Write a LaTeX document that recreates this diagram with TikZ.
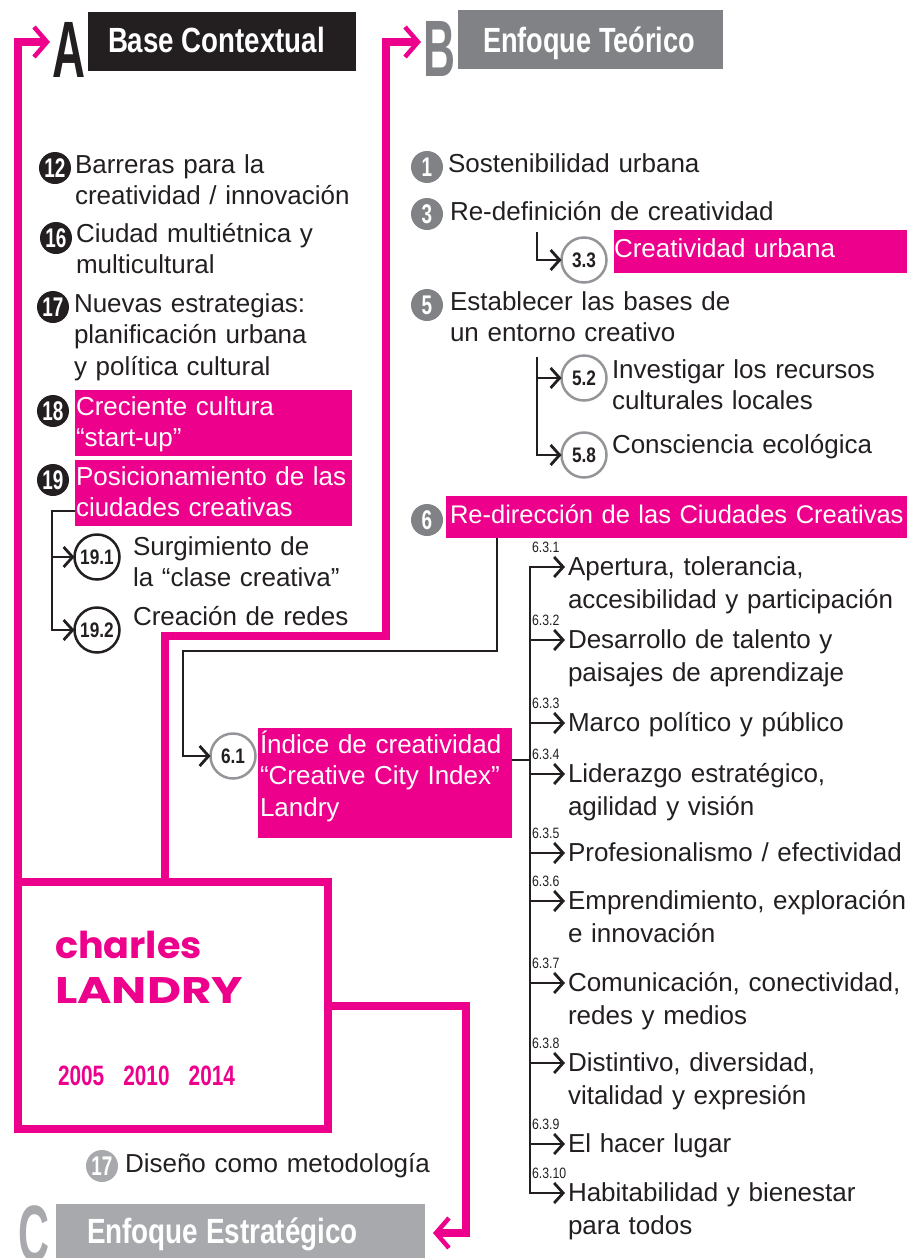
\documentclass[tikz,border=0pt]{standalone}
\usepackage{fontspec}
\usepackage{graphicx}
\setmainfont{Liberation Sans}
\newfontfamily\numfont[FakeStretch=0.82]{Liberation Sans}
\newfontfamily\badgefont[FakeStretch=0.7]{Liberation Sans}
\newfontfamily\geofont{Poppins}
\usetikzlibrary{arrows.meta}

\definecolor{lpink}{HTML}{EC008C}
\definecolor{ink}{HTML}{231F20}
\definecolor{gdark}{HTML}{808285}
\definecolor{glight}{HTML}{A7A9AC}
\definecolor{cgray}{HTML}{939598}

% scale a text horizontally to a given width, keeping its height
\newcommand\fitw[2]{\resizebox{#1}{\height}{#2}}
\newcommand\bodyfont{\fontsize{26}{31.5}\selectfont}
\newcommand\listfont{\fontsize{26}{33}\selectfont}

\tikzset{
  every node/.style={inner sep=0pt, outer sep=0pt},
  pinkln/.style={draw=lpink, line width=7.5pt, line join=miter},
  pinkhead/.style={-{Straight Barb[length=13pt,width=30pt,line width=4.5pt]}},
  conn/.style={draw=ink, line width=2.8pt, line join=miter},
  tip/.style={-{Straight Barb[length=9pt,width=20pt]}},
  hdrbox/.style={anchor=north west, rectangle},
  hdrtxt/.style={anchor=base west, text=white, font=\bfseries\fontsize{35}{35}\selectfont},
  letter/.style={anchor=base west, font=\bfseries\fontsize{80}{80}\selectfont},
  pbox/.style={anchor=north west, rectangle, fill=lpink},
  txt/.style={anchor=base west, text=ink, font=\bodyfont, text width=600pt, align=left},
  wtxt/.style={txt, text=white},
  ltxt/.style={txt, font=\listfont},
  badge/.style={circle, minimum size=32pt, text=white, font=\badgefont\bfseries\fontsize{27}{27}\selectfont},
  ring/.style={circle, draw=cgray, line width=2.5pt, minimum size=45pt, text=ink, font=\numfont\bfseries\fontsize{21}{21}\selectfont},
  lbl/.style={anchor=base west, text=ink, font=\numfont\fontsize{15}{15}\selectfont},
  geo/.style={anchor=base west, text=lpink, font=\geofont\bfseries\fontsize{37}{37}\selectfont},
}

\begin{document}
\begin{tikzpicture}[x=1pt,y=-1pt]
\useasboundingbox (0,0) rectangle (914,1258);

% ---------- section headers
\node[hdrbox, fill=ink, minimum width=268pt, minimum height=59pt] (hA) at (88,12) {};
\node[hdrtxt] (hAt) at (108,52) {\fitw{217pt}{Base Contextual}};
\node[letter, text=ink] (A) at (52,77) {\fitw{33pt}{A}};

\node[hdrbox, fill=gdark, minimum width=265pt, minimum height=59pt] (hB) at (458,10) {};
\node[hdrtxt] (hBt) at (483,52) {\fitw{212pt}{Enfoque Teórico}};
\node[letter, text=gdark] (B) at (423,76) {\fitw{32pt}{B}};

\node[hdrbox, fill=glight, minimum width=369pt, minimum height=60pt] (hC) at (56,1204) {};
\node[hdrtxt] (hCt) at (87,1243) {\fitw{271pt}{Enfoque Estratégico}};
\node[letter, text=glight] (C) at (18,1261) {\fitw{31pt}{C}};

% ---------- author box
\node[draw=lpink, line width=7.5pt, minimum width=310pt, minimum height=247pt, anchor=north west] (landry) at (18,882) {};
\node[geo] (charles) at (55,958) {\fitw{147pt}{charles}};
\node[geo] (surname) at (55,1003) {\fitw{188pt}{LANDRY}};
\node[anchor=base west, text=lpink, font=\bfseries\fontsize{28}{28}\selectfont] (years) at (58,1085)
  {\fitw{177pt}{2005\hspace{0.92em}2010\hspace{0.92em}2014}};

% ---------- pink routes
\coordinate (aTurn) at (18,42);
\draw[pinkln, pinkhead, shorten >=2pt] (landry.north west) -- (aTurn) -- (aTurn -| A.west);
\draw[pinkln, pinkhead, shorten >=2pt] (landry.north -| 165,0) -- (165,636) -- (386,636) -- (386,42) -- (B.west |- 0,42);
\draw[pinkln, pinkhead, shorten >=8pt] (landry.east |- 0,1006) -- (466,1006) -- (466,1233) -- (hC.east |- 0,1233);

% ---------- column A
\node[badge, fill=ink] (n12) at (55,168) {12};
\node[txt] (t12) at (75,173) {Barreras para la\\creatividad / innovación};
\node[badge, fill=ink] (n16) at (56,238) {16};
\node[txt] (t16) at (76,242) {Ciudad multiétnica y\\multicultural};
\node[badge, fill=ink] (n17) at (53,307) {17};
\node[txt] (t17) at (74,312) {Nuevas estrategias:\\planificación urbana\\y política cultural};

\node[pbox, minimum width=277pt, minimum height=66pt] (p18) at (75,390) {};
\node[badge, fill=ink] (n18) at (53,411) {18};
\node[wtxt] (t18) at (76,415) {Creciente cultura\\“start-up”};

\node[pbox, minimum width=277pt, minimum height=66pt] (p19) at (75,460) {};
\node[badge, fill=ink] (n19) at (53,480) {19};
\node[wtxt] (t19) at (76,485) {Posicionamiento de las\\ciudades creativas};

\node[ring, draw=ink] (r191) at (97,557) {19.1};
\node[txt] (t191) at (133,555) {Surgimiento de\\la “clase creativa”};
\node[ring, draw=ink] (r192) at (97,630) {19.2};
\node[txt] (t192) at (133,625) {Creación de redes};

\draw[conn, tip] (p19.west |- 0,511) -| (52,630) -- (r192);
\draw[conn, tip] (52,557) -- (r191);

% ---------- column B
\node[badge, fill=gdark] (n1) at (427,167) {1};
\node[txt] (t1) at (448,172) {Sostenibilidad urbana};
\node[badge, fill=gdark] (n3) at (427,214) {3};
\node[txt] (t3) at (450,220) {Re-definición de creatividad};

\node[ring] (r33) at (584,260) {3.3};
\node[pbox, minimum width=293pt, minimum height=43pt] (p33) at (614,230) {};
\node[wtxt] (t33) at (614,257) {Creatividad urbana};
\coordinate (s3) at (537,232);
\draw[conn, tip] (s3) |- (r33);

\node[badge, fill=gdark] (n5) at (427,305) {5};
\node[txt] (t5) at (450,310) {Establecer las bases de\\un entorno creativo};
\node[ring] (r52) at (584,378) {5.2};
\node[txt] (t52) at (612,378) {Investigar los recursos\\culturales locales};
\node[ring] (r58) at (584,455) {5.8};
\node[txt] (t58) at (612,453) {Consciencia ecológica};
\coordinate (s5) at (537,357);
\draw[conn, tip] (s5) |- (r58);
\draw[conn, tip] (s5 |- r52) -- (r52);

\node[pbox, minimum width=461pt, minimum height=42pt] (p6) at (446,496) {};
\node[badge, fill=gdark] (n6) at (427,520) {6};
\node[wtxt, font=\fontsize{25.5}{31.5}\selectfont] (t6) at (450,523) {Re-dirección de las Ciudades Creativas};

\node[ring] (r61) at (233,756) {6.1};
\node[pbox, minimum width=254pt, minimum height=110pt] (p61) at (258,728) {};
\node[wtxt] (t61) at (260,753) {Índice de creatividad\\“Creative City Index”\\Landry};
\draw[conn, tip] (p6.south -| 497,0) |- (183,651) |- (r61);

% ---------- list 6.3
\node[ltxt] (i1) at (568,575) {Apertura, tolerancia,\\accesibilidad y participación};
\node[ltxt] (i2) at (568,648) {Desarrollo de talento y\\paisajes de aprendizaje};
\node[ltxt] (i3) at (568,731) {Marco político y público};
\node[ltxt] (i4) at (568,782) {Liderazgo estratégico,\\agilidad y visión};
\node[ltxt] (i5) at (568,861) {Profesionalismo / efectividad};
\node[ltxt] (i6) at (568,909) {Emprendimiento, exploración\\e innovación};
\node[ltxt] (i7) at (568,991) {Comunicación, conectividad,\\redes y medios};
\node[ltxt] (i8) at (568,1071) {Distintivo, diversidad,\\vitalidad y expresión};
\node[ltxt] (i9) at (568,1152) {El hacer lugar};
\node[ltxt] (i10) at (568,1201) {Habitabilidad y bienestar\\para todos};

\foreach \k in {1,...,10} {
  \coordinate (a\k) at ([shift={(-3pt,8pt)}]i\k.base west);
}
\foreach \k/\lab in {1/6.3.1,2/6.3.2,3/6.3.3,4/6.3.4,5/6.3.5,6/6.3.6,7/6.3.7,8/6.3.8,9/6.3.9,10/6.3.10} {
  \node[lbl] (l\k) at ([shift={(0pt,15pt)}]a\k -| 532,0) {\lab};
}

\draw[conn, {Straight Barb[length=9pt,width=20pt]}-{Straight Barb[length=9pt,width=20pt]}]
  (a1) -- (a1 -| 530,0) -- (a10 -| 530,0) -- (a10);
\foreach \k in {2,...,9} {
  \draw[conn, tip] (a\k -| 530,0) -- (a\k);
}
\draw[conn] (p61.east |- 0,760) -- (530,760);

% ---------- bottom note
\node[badge, fill=glight] (n17b) at (102,1166) {17};
\node[txt] (t17b) at (125,1172) {Diseño como metodología};

\end{tikzpicture}
\end{document}
